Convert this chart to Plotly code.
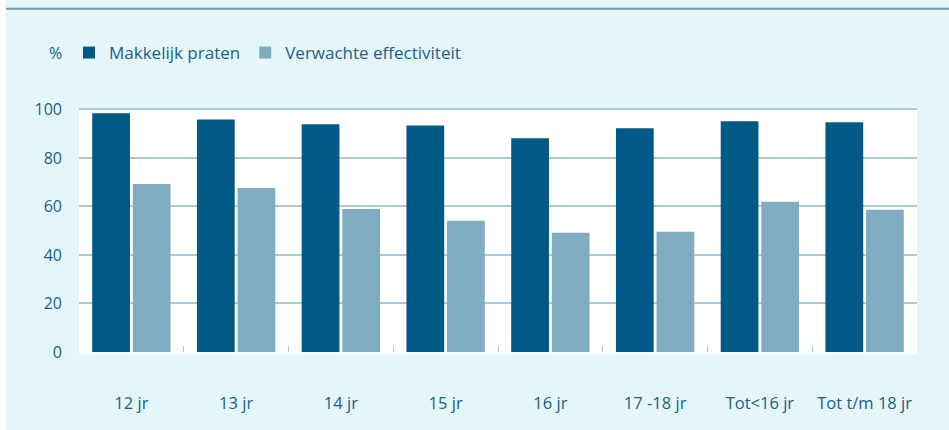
import plotly.graph_objects as go

categories = ["12 jr", "13 jr", "14 jr", "15 jr", "16 jr", "17 -18 jr", "Tot<16 jr", "Tot t/m 18 jr"]
makkelijk_praten = [98.4, 95.9, 93.9, 93.4, 88.1, 92.2, 95.1, 94.7]
verwachte_effectiviteit = [69.3, 67.6, 59.0, 54.1, 49.2, 49.6, 61.9, 58.6]
y_ticks = [0, 20, 40, 60, 80, 100]

DARK = "#015a85"
LIGHT = "#80acc2"
TEXT = "#1b5f86"
BG = "#e4f6fa"
GRID = "#a9c9d7"
FONT = "Open Sans"

W, H = 949, 430
L, R, T, B = 79, 32, 108, 78
PW, PH = W - L - R, H - T - B


def px(x):
    return (x - L) / PW


def py(y):
    return (H - B - y) / PH


fig = go.Figure()
fig.add_trace(go.Bar(x=categories, y=makkelijk_praten, name="Makkelijk praten",
                     marker=dict(color=DARK, line=dict(width=0))))
fig.add_trace(go.Bar(x=categories, y=verwachte_effectiviteit, name="Verwachte effectiviteit",
                     marker=dict(color=LIGHT, line=dict(width=0))))

fig.update_layout(
    width=W, height=H,
    margin=dict(l=L, r=R, t=T, b=B, autoexpand=False),
    paper_bgcolor=BG, plot_bgcolor="white",
    barmode="group", bargap=0.225, bargroupgap=0.07,
    font=dict(family=FONT, color=TEXT, size=15),
    showlegend=True,
    legend=dict(orientation="h", x=px(69), xanchor="left", y=py(53), yanchor="middle",
                font=dict(family=FONT, size=17, color=TEXT),
                itemwidth=30, bgcolor="rgba(0,0,0,0)", traceorder="normal"),
    xaxis=dict(type="category", showgrid=False, zeroline=False, showline=False,
               ticks="inside", tickson="boundaries", ticklen=6, tickwidth=1, tickcolor=GRID,
               ticklabelstandoff=39, tickfont=dict(size=16.5, color=TEXT)),
    yaxis=dict(range=[0, 100.6], tickvals=y_ticks, showgrid=True, gridcolor=GRID, gridwidth=2,
               zeroline=True, zerolinecolor="white", zerolinewidth=3, showline=False,
               ticks="", ticklabelstandoff=16, tickfont=dict(size=16, color=TEXT)),
    shapes=[
        dict(type="line", xref="paper", yref="paper", x0=px(6), x1=px(950), y0=py(8.7), y1=py(8.7),
             line=dict(color="#6b9fb6", width=2), layer="above"),
        dict(type="rect", xref="paper", yref="paper", x0=px(-2), x1=px(5.5), y0=py(432), y1=py(-2),
             fillcolor="#ffffff", line=dict(width=0), layer="above"),
    ],
    annotations=[dict(text="%", xref="paper", yref="paper", x=px(64), y=py(53),
                      xanchor="right", yanchor="middle", showarrow=False,
                      font=dict(family=FONT, size=16, color=TEXT))],
)

fig.write_html("out.html", config={"displayModeBar": False},
               post_script="document.body.style.margin='0';document.body.style.overflow='hidden';")
